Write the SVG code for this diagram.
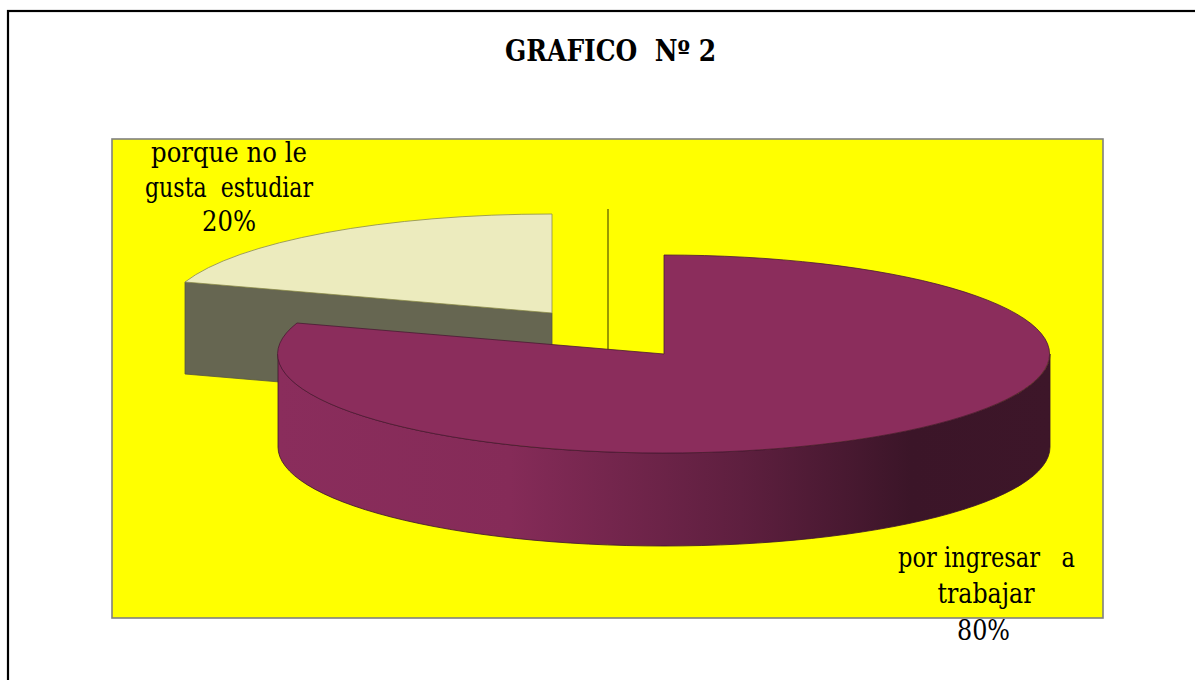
<svg xmlns="http://www.w3.org/2000/svg" width="1195" height="680" viewBox="0 0 1195 680">
  <style>
    .lbl { font-family: "DejaVu Serif", serif; font-size: 27px; fill: #000; text-anchor: middle; white-space: pre; }
    .title { font-family: "DejaVu Serif", serif; font-size: 29px; font-weight: bold; fill: #000; text-anchor: middle; white-space: pre; }
  </style>
  <defs>
    <linearGradient id="sideGrad" gradientUnits="userSpaceOnUse" x1="278" y1="0" x2="1050" y2="0">
      <stop offset="0" stop-color="#8A2D5C"/>
      <stop offset="0.3" stop-color="#852B58"/>
      <stop offset="0.6" stop-color="#5E1F3F"/>
      <stop offset="0.82" stop-color="#3B1528"/>
      <stop offset="1" stop-color="#3D1629"/>
    </linearGradient>
  </defs>
  <rect x="0" y="0" width="1195" height="680" fill="#FFFFFF"/>
  <rect id="frame" x="8" y="11" width="1200" height="700" fill="none" stroke="#000" stroke-width="2.2"/>
  <g id="title"><text class="title" x="610.5" y="61" textLength="211" lengthAdjust="spacingAndGlyphs">GRAFICO  Nº 2</text></g>
  <g id="plot-area"><rect x="112" y="139" width="991" height="479" fill="#FFFF00" stroke="#808080" stroke-width="1.6"/></g>
  <g id="connectors">
    <line x1="608" y1="209" x2="608" y2="351" stroke="#808000" stroke-width="1.6"/>
  </g>
  <g id="slice-20">
    <polygon points="185,282 552,313 552,405 185,374" fill="#666651" stroke="#55553f" stroke-width="0.8"/>
    <path d="M552,313 L185,282 A386,99 0 0 1 552,214 Z" fill="#ECEBBE" stroke="#8a8a50" stroke-width="0.8"/>
  </g>
  <g id="slice-80">
    <path d="M278,354 A386,99 0 0 0 1050,354 L1050,447 A386,99 0 0 1 278,447 Z" fill="url(#sideGrad)" stroke="#3a1528" stroke-width="0.8"/>
    <path d="M664,354 L664,255 A386,99 0 1 1 297,323 Z" fill="#8B2D5C" stroke="#4a1a33" stroke-width="0.8"/>
  </g>
  <g id="label-20">
    <text class="lbl" x="229" y="162" textLength="156" lengthAdjust="spacingAndGlyphs">porque no le</text>
    <text class="lbl" x="229" y="197" textLength="168" lengthAdjust="spacingAndGlyphs">gusta  estudiar</text>
    <text class="lbl" x="229" y="231" textLength="54" lengthAdjust="spacingAndGlyphs">20%</text>
  </g>
  <g id="label-80">
    <text class="lbl" x="986.5" y="567" textLength="177" lengthAdjust="spacingAndGlyphs">por ingresar   a</text>
    <text class="lbl" x="986" y="603" textLength="97" lengthAdjust="spacingAndGlyphs">trabajar</text>
    <text class="lbl" x="983.5" y="640" textLength="53" lengthAdjust="spacingAndGlyphs">80%</text>
  </g>
</svg>
